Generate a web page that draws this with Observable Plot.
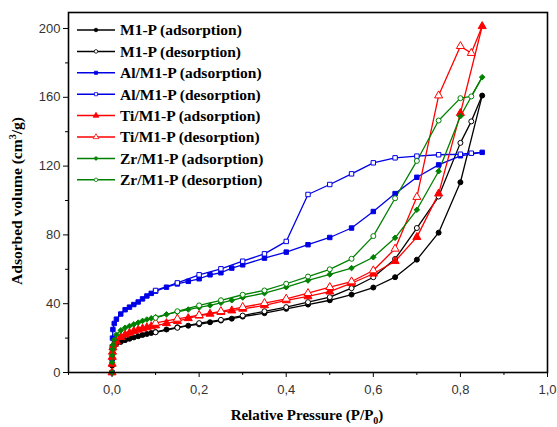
<!DOCTYPE html>
<html><head><meta charset="utf-8">
<script src="https://cdn.jsdelivr.net/npm/d3@7"></script>
<script src="https://cdn.jsdelivr.net/npm/@observablehq/plot@0.6"></script>
<style>html,body{margin:0;padding:0;background:#fff;}</style>
</head><body><div id="chart"></div>
<script>
// Relative pressure points (adsorption branch)
const adsP = [0, 0.0002, 0.0005, 0.001, 0.002, 0.005, 0.01, 0.02, 0.03, 0.04, 0.05, 0.06, 0.07, 0.08, 0.09, 0.1, 0.125, 0.15, 0.175, 0.2, 0.225, 0.25, 0.275, 0.3, 0.35, 0.4, 0.45, 0.5, 0.55, 0.6, 0.65, 0.7, 0.75, 0.8, 0.85];
// Relative pressure points (desorption branch)
const desP = [0.825, 0.8, 0.75, 0.7, 0.65, 0.6, 0.55, 0.5, 0.45, 0.4, 0.35, 0.3, 0.25, 0.2, 0.15, 0.1];

const m1Ads = [0, 4, 8, 11, 13.5, 15.5, 16.8, 17.8, 18.8, 19.6, 20.4, 21.1, 21.8, 22.4, 23, 23.5, 25, 26.3, 27.2, 28, 29.2, 30.2, 31.3, 32.5, 34.5, 37, 39.5, 42, 45.3, 49.4, 55.4, 65.6, 81.3, 110.6, 161];
const m1Des = [146, 133.5, 102.3, 84, 66, 55.4, 49, 43.8, 40.9, 38, 35.6, 33.1, 30.6, 28.7, 26, 23.4];
const alAds = [0, 8, 15, 20, 25, 28.5, 31, 34, 36.5, 38, 39.5, 41, 42.8, 44.5, 46, 47.3, 49.6, 51.5, 53, 54.5, 56.8, 58, 60.7, 62.6, 66.5, 70, 74.3, 78.5, 84, 93.6, 104, 113.5, 120.7, 126, 128];
const alDes = [127.5, 126.9, 126.6, 125.8, 124.8, 121.9, 115.5, 109.3, 103.5, 76.2, 69, 64.7, 60.3, 56.8, 52.1, 47.7];
const tiAds = [0, 5, 9, 12, 14.5, 16.5, 18, 20.5, 22, 23, 24, 24.8, 25.5, 26.2, 26.8, 27.3, 28.6, 29.8, 31.5, 33, 34.1, 35.1, 36, 37, 39, 41.9, 44.2, 47, 51.9, 57.4, 64.7, 78.7, 104, 150.8, 201.3];
const tiDes = [185.7, 189.7, 161, 102, 71.9, 59.3, 52.9, 49.6, 46.1, 42.8, 40.3, 38, 35.6, 33.3, 31.2, 28.8];
const zrAds = [0, 6, 10, 13.5, 16, 19, 22, 24.5, 26, 27, 28, 29, 30, 30.8, 31.5, 32.2, 33.8, 35.2, 36.6, 37.8, 39, 40.5, 42, 43.6, 46.1, 49.6, 53.5, 57, 60.7, 67, 78.3, 94.6, 117, 149, 171.7];
const zrDes = [160.5, 159.5, 146.5, 123, 101.3, 79.3, 66.1, 60, 55.8, 51.6, 47.7, 45.2, 42, 39, 35.6, 31.8];

const seriesNames = ["M1-P (adsorption)", "M1-P (desorption)", "Al/M1-P (adsorption)", "Al/M1-P (desorption)", "Ti/M1-P (adsorption)", "Ti/M1-P (desorption)", "Zr/M1-P (adsorption)", "Zr/M1-P (desorption)"];
const xTicks = [0, 0.2, 0.4, 0.6, 0.8, 1.0];
const xMinor = [-0.1, 0.1, 0.3, 0.5, 0.7, 0.9];
const yTicks = [0, 40, 80, 120, 160, 200];
const yMinor = [20, 60, 100, 140, 180];

const colors = ["#000000", "#000000", "#0000e6", "#0000e6", "#ff0000", "#ff0000", "#008000", "#008000"];
const symbols = ["circle", "circle", "square", "square", "triangle", "triangle", "diamond", "circle"];
const filled = [true, false, true, false, true, false, true, false];

const adsSets = [m1Ads, alAds, tiAds, zrAds];
const desSets = [m1Des, alDes, tiDes, zrDes];

const series = seriesNames.map((name, i) => {
  const k = Math.floor(i / 2);
  const isAds = i % 2 === 0;
  const pts = isAds
    ? adsP.map((p, j) => ({x: p, y: adsSets[k][j]}))
    : desP.map((p, j) => ({x: p, y: desSets[k][j]}));
  const last = {x: adsP[adsP.length - 1], y: adsSets[k][adsSets[k].length - 1]};
  const linePts = isAds ? pts : [last, ...pts];
  return {name, color: colors[i], symbol: symbols[i], filled: filled[i], pts, linePts};
});

const fmt = d => d3.format(".1f")(d).replace(".", ",");
const sym = s => s === "diamond" ? "diamond2" : s;

const marks = [
  Plot.axisX({ticks: xTicks, tickFormat: fmt, tickSize: 5, tickPadding: 7, fontSize: 13, label: null, fill: "#333", stroke: "#000"}),
  Plot.axisX({ticks: xMinor, tickFormat: () => "", tickSize: 3, label: null, stroke: "#000"}),
  Plot.axisY({ticks: yTicks, tickFormat: d => String(d), tickSize: 5, tickPadding: 3, fontSize: 13, label: null, fill: "#333", stroke: "#000"}),
  Plot.axisY({ticks: yMinor, tickFormat: () => "", tickSize: 3, label: null, stroke: "#000"})
];
series.forEach(s => {
  marks.push(Plot.line(s.linePts, {x: "x", y: "y", stroke: s.color, strokeWidth: 1.3}));
});
series.forEach(s => {
  marks.push(Plot.dot(s.pts, {x: "x", y: "y", symbol: sym(s.symbol), r: s.symbol === "triangle" ? 3 : 2.5, stroke: s.color, strokeWidth: 1, fill: s.filled ? s.color : "#fff"}));
});
marks.push(Plot.frame({stroke: "#000", strokeWidth: 1.6}));

const chart = Plot.plot({
  width: 557, height: 427,
  marginLeft: 68, marginRight: 10, marginTop: 12, marginBottom: 55,
  x: {domain: [-0.1, 1.0]},
  y: {domain: [0, 209.3]},
  style: {fontFamily: "'Liberation Sans', Arial, sans-serif", background: "#fff", overflow: "visible"},
  marks
});
document.getElementById("chart").appendChild(chart);

// Axis titles and legend
const svg = d3.select(chart);
const serif = "'Liberation Serif', 'Times New Roman', serif";
const styleText = t => t.style("font-family", serif).style("font-weight", "bold").attr("fill", "#000");

const xt = styleText(svg.append("text").attr("x", 307).attr("y", 420).attr("text-anchor", "middle").style("font-size", "15px"));
xt.append("tspan").text("Relative Pressure (P/P");
xt.append("tspan").style("font-size", "10px").attr("dy", 4).text("0");
xt.append("tspan").attr("dy", -4).text(")");

const yt = styleText(svg.append("text").attr("transform", "translate(22,201) rotate(-90)").attr("text-anchor", "middle").style("font-size", "15.5px"));
yt.append("tspan").text("Adsorbed volume (cm");
yt.append("tspan").style("font-size", "10px").attr("dy", -6).text("3");
yt.append("tspan").attr("dy", 6).text("/g)");

const lg = svg.append("g");
series.forEach((s, i) => {
  const y = 30 + i * 21.4;
  lg.append("line").attr("x1", 77).attr("x2", 115).attr("y1", y).attr("y2", y)
    .attr("stroke", s.color).attr("stroke-width", 1.5);
  const area = s.symbol === "triangle" ? 14 : 10;
  const symType = {circle: d3.symbolCircle, square: d3.symbolSquare, triangle: d3.symbolTriangle, diamond: d3.symbolDiamond2}[s.symbol];
  lg.append("path").attr("d", d3.symbol(symType, area)()).attr("transform", `translate(96,${y})`)
    .attr("fill", s.filled ? s.color : "#fff").attr("stroke", s.color).attr("stroke-width", 0.8);
  styleText(lg.append("text").attr("x", 120).attr("y", y).attr("dy", "0.35em").attr("text-anchor", "start").style("font-size", "15.5px"))
    .text(s.name);
});
</script>
</body></html>
